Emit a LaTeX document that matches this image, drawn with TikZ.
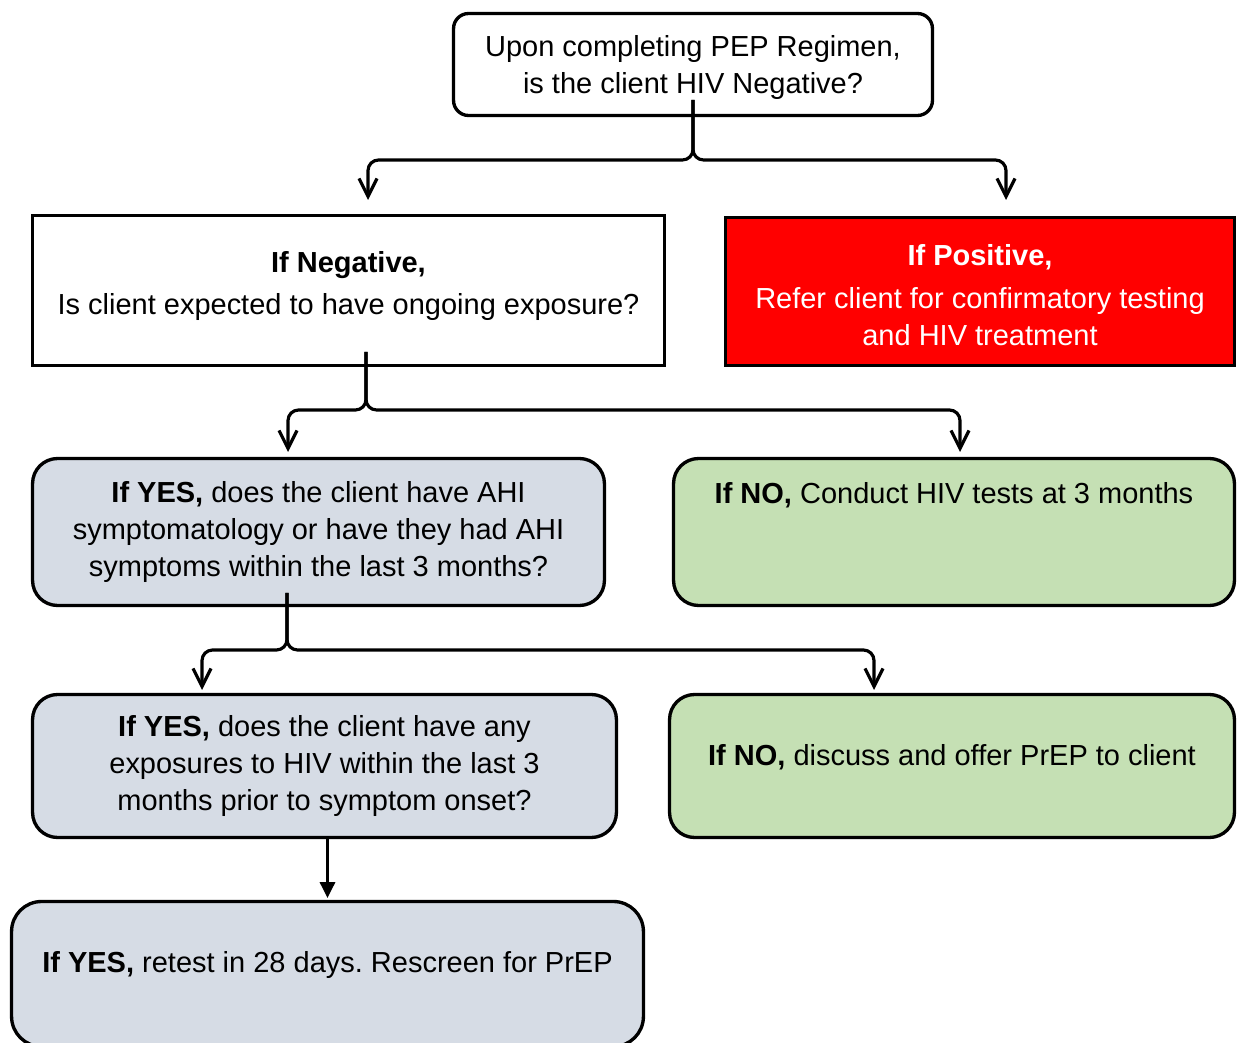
\documentclass[tikz,border=0pt]{standalone}
\usepackage{fontspec}
\setmainfont{Liberation Sans}
\usetikzlibrary{positioning,calc,arrows.meta}
\definecolor{askblue}{HTML}{D6DCE5}
\definecolor{nogreen}{HTML}{C5E0B4}
\frenchspacing

\begin{document}
\begin{tikzpicture}[x=0.02cm, y=-0.02cm,
    box/.style={rectangle, draw=black, line width=1.9pt, align=center, inner sep=0pt,
                font=\fontsize{16.5}{21}\selectfont},
    roundbox/.style={box, rounded corners=0.5cm},
    greybox/.style={roundbox, fill=askblue},
    greenbox/.style={roundbox, fill=nogreen},
    fork/.style={line width=1.8pt, rounded corners=6pt, -{Straight Barb[length=0.36cm, width=0.36cm]}}]
    \useasboundingbox (0,0) rectangle (1238,1043);
    \clip (0,0) rectangle (1238,1043);

       \node [box, rounded corners=0.3cm, minimum width=9.58cm, minimum height=2.04cm] at (693,64.5) (top)
       {\rule{0pt}{15.5pt}Upon completing PEP Regimen,\\is the client HIV Negative?};
       \node [box, minimum width=12.64cm, minimum height=3.0cm] at (348.5,290.5) (neg)
       {\textbf{If Negative,}\\[3pt]Is client expected to have ongoing exposure?\rule[-9pt]{0pt}{1pt}};
       \node [box, fill=red, text=white, minimum width=10.18cm, minimum height=2.96cm] at (980,291.5) (pos)
       {\rule{0pt}{16pt}\textbf{If Positive,}\\[4pt]Refer client for confirmatory testing\\and HIV treatment};

       \node [greybox, minimum width=11.44cm, minimum height=2.94cm] at (318.5,532) (symptoms)
       {\textbf{If YES,} does the client have AHI\\symptomatology or have they had AHI\\symptoms within the last 3 months?};
       \node [greenbox, minimum width=11.22cm, text height=0.89cm, text depth=2.05cm] at (954,532) (testthree)
       {\textbf{If NO,} Conduct HIV tests at 3 months};

       \node [greybox, minimum width=11.68cm, minimum height=2.86cm] at (324.5,766) (exposures)
       {\textbf{If YES,} does the client have any\\exposures to HIV within the last 3\\months prior to symptom onset?};
       \node [greenbox, minimum width=11.3cm, text height=1.41cm, text depth=1.45cm] at (952,766) (offer)
       {\textbf{If NO,} discuss and offer PrEP to client};

       \node [greybox, rounded corners=0.6cm, minimum width=12.64cm, text height=1.41cm, text depth=1.49cm] at (327.5,974) (retest)
       {\textbf{If YES,} retest in 28 days. Rescreen for PrEP};

       % forks
       \coordinate (topout) at (693,100);
       \coordinate (negin) at (368,200);
       \coordinate (posin) at (1006,200);
       \draw [fork] (topout) |- ($(negin)+(0,-40)$) -- (negin);
       \draw [fork] (topout) |- ($(posin)+(0,-40)$) -- (posin);

       \coordinate (negout) at (366,352);
       \coordinate (symin) at (288,452);
       \coordinate (threein) at (960,452);
       \draw [fork] (negout) |- ($(symin)+(0,-42)$) -- (symin);
       \draw [fork] (negout) |- ($(threein)+(0,-42)$) -- (threein);

       \coordinate (symout) at (287,593);
       \coordinate (expin) at (202,690);
       \coordinate (offerin) at (874,690);
       \draw [fork] (symout) |- ($(expin)+(0,-40)$) -- (expin);
       \draw [fork] (symout) |- ($(offerin)+(0,-40)$) -- (offerin);

       \draw [line width=1.8pt, -{Triangle[length=0.32cm, width=0.3cm]}] (exposures.south -| retest.north) -- ([yshift=1pt]retest.north);
    \end{tikzpicture}
\end{document}
